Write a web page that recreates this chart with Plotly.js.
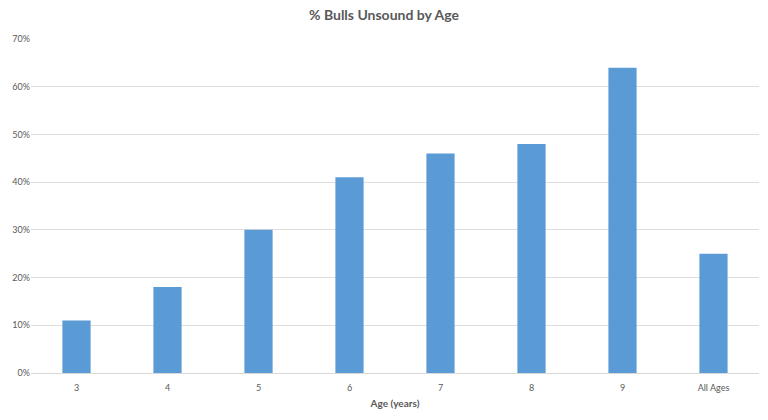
<!DOCTYPE html>
<html>
<head>
<meta charset="utf-8">
<script src="https://cdn.plot.ly/plotly-3.0.1.min.js"></script>
<style>html,body{margin:0;padding:0;background:#fff;}#chart{width:768px;height:420px;}</style>
</head>
<body>
<div id="chart"></div>
<script>
const categories = ["3", "4", "5", "6", "7", "8", "9", "All Ages"];
const unsoundPct = [0.11, 0.18, 0.30, 0.41, 0.46, 0.48, 0.64, 0.25];
const yTickVals = [0, 0.1, 0.2, 0.3, 0.4, 0.5, 0.6, 0.7];

const trace = {
  type: "bar",
  x: categories,
  y: unsoundPct,
  marker: {color: "#5b9bd5"},
  hoverinfo: "x+y"
};

const layout = {
  width: 768,
  height: 420,
  margin: {l: 31, r: 9, t: 39, b: 47},
  paper_bgcolor: "#ffffff",
  plot_bgcolor: "#ffffff",
  font: {family: "Lato, 'Open Sans', sans-serif", color: "#595959"},
  title: {
    text: "<b>% Bulls Unsound by Age</b>",
    font: {size: 14, color: "#595959"},
    x: 0.5, xanchor: "center", y: 0.963, yanchor: "middle"
  },
  bargap: 0.69,
  xaxis: {
    type: "category",
    tickfont: {size: 9, color: "#595959"},
    ticks: "outside",
    ticklen: 6,
    tickcolor: "rgba(0,0,0,0)",
    showline: true,
    linecolor: "#d9d9d9",
    linewidth: 1,
    title: {text: "<b>Age (years)</b>", font: {size: 10, color: "#595959"}, standoff: 8}
  },
  yaxis: {
    range: [0, 0.7],
    tickvals: yTickVals,
    tickformat: ".0%",
    tickfont: {size: 9, color: "#595959"},
    gridcolor: "#dedede",
    gridwidth: 1,
    zeroline: false,
    ticks: "",
    ticklen: 0,
    automargin: false
  },
  showlegend: false
};

Plotly.newPlot("chart", [trace], layout, {displayModeBar: false, staticPlot: true});
</script>
</body>
</html>
